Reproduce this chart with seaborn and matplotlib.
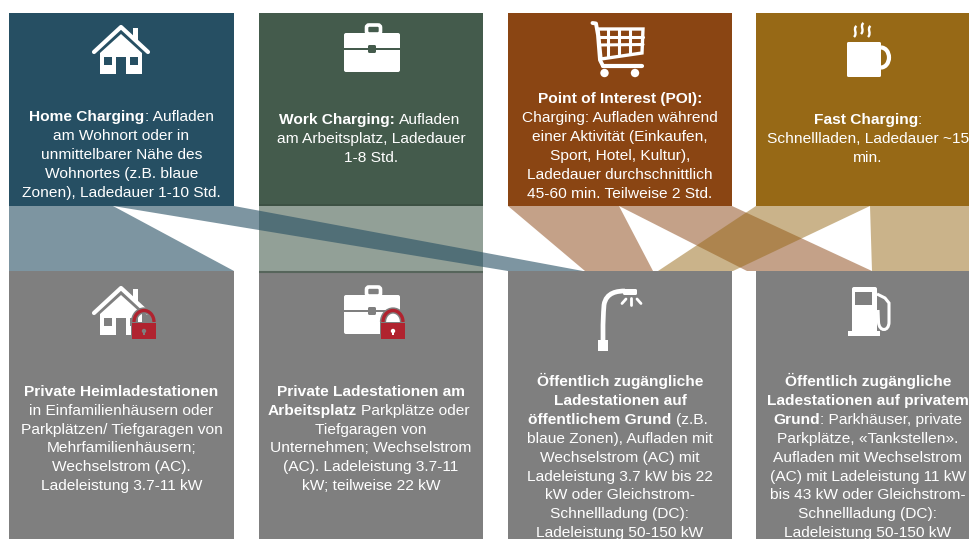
import matplotlib
matplotlib.use('Agg')
import matplotlib.pyplot as plt
import seaborn as sns
from matplotlib.patches import Rectangle, Polygon, Circle, PathPatch, FancyBboxPatch, Arc
from matplotlib.path import Path

# texts: every line is a list of (text, bold) runs
home_text = [[('Home Charging', True), (': Aufladen', False)],
             [('am Wohnort oder in', False)],
             [('unmittelbarer Nähe des', False)],
             [('Wohnortes (z.B. blaue', False)],
             [('Zonen), Ladedauer 1-10 Std.', False)]]
work_text = [[('Work Charging:', True), (' Aufladen', False)],
             [('am Arbeitsplatz, Ladedauer', False)],
             [('1-8 Std.', False)]]
poi_text = [[('Point of Interest (POI):', True)],
            [('Charging: Aufladen während', False)],
            [('einer Aktivität (Einkaufen,', False)],
            [('Sport, Hotel, Kultur),', False)],
            [('Ladedauer durchschnittlich', False)],
            [('45-60 min. Teilweise 2 Std.', False)]]
fast_text = [[('Fast Charging', True), (':', False)],
             [('Schnellladen, Ladedauer ~15', False)],
             [('min.', False)]]
heim_text = [[('Private Heimladestationen', True)],
             [('in Einfamilienhäusern oder', False)],
             [('Parkplätzen/ Tiefgaragen von', False)],
             [('Mehrfamilienhäusern;', False)],
             [('Wechselstrom (AC).', False)],
             [('Ladeleistung 3.7-11 kW', False)]]
arbeit_text = [[('Private Ladestationen am', True)],
               [('Arbeitsplatz', True), (' Parkplätze oder', False)],
               [('Tiefgaragen von', False)],
               [('Unternehmen; Wechselstrom', False)],
               [('(AC). Ladeleistung 3.7-11', False)],
               [('kW; teilweise 22 kW', False)]]
public_text = [[('Öffentlich zugängliche', True)],
               [('Ladestationen auf', True)],
               [('öffentlichem Grund', True), (' (z.B.', False)],
               [('blaue Zonen), Aufladen mit', False)],
               [('Wechselstrom (AC) mit', False)],
               [('Ladeleistung 3.7 kW bis 22', False)],
               [('kW oder Gleichstrom-', False)],
               [('Schnellladung (DC):', False)],
               [('Ladeleistung 50-150 kW', False)]]
private_text = [[('Öffentlich zugängliche', True)],
                [('Ladestationen auf privatem', True)],
                [('Grund', True), (': Parkhäuser, private', False)],
                [('Parkplätze, «Tankstellen».', False)],
                [('Aufladen mit Wechselstrom', False)],
                [('(AC) mit Ladeleistung 11 kW', False)],
                [('bis 43 kW oder Gleichstrom-', False)],
                [('Schnellladung (DC):', False)],
                [('Ladeleistung 50-150 kW', False)]]

sns.set_theme(style='white')
plt.rcParams['font.family'] = ['Liberation Sans', 'DejaVu Sans']
blue, green, brown, gold = sns.color_palette(['#264f63', '#445b4c', '#8a4513', '#976916'])
grey = '#7f7f7f'
red = '#b0232f'
text_size = 11.15
space = 4.3

fig, ax = plt.subplots(figsize=(9.7, 5.39), dpi=100)
fig.subplots_adjust(0, 0, 1, 1)
ax.set_xlim(0, 970)
ax.set_ylim(539, 0)
ax.axis('off')
sns.despine(ax=ax, left=True, bottom=True)

# boxes
for x0, x1, c in [(9, 234, blue), (259, 483, green), (508, 732, brown), (756, 970, gold)]:
    ax.add_patch(Rectangle((x0, 13), x1 - x0, 193, fc=c, lw=0, zorder=2))
for x0, x1 in [(9, 234), (259, 483), (508, 732), (756, 970)]:
    ax.add_patch(Rectangle((x0, 271), x1 - x0, 268, fc=grey, lw=0, zorder=2))

# connecting bands
bands = [([(9, 206), (113, 206), (234, 271), (9, 271)], blue, 0.6),
         ([(259, 206), (483, 206), (483, 271), (259, 271)], green, 0.58),
         ([(508, 206), (619, 206), (653, 271), (585, 271)], brown, 0.5),
         ([(619, 206), (732, 206), (872, 271), (747, 271)], brown, 0.5),
         ([(756, 206), (870, 206), (733, 271), (658, 271)], gold, 0.5),
         ([(870, 206), (970, 206), (970, 271), (872, 271)], gold, 0.5),
         ([(113, 206), (234, 206), (583, 271), (508, 271)], blue, 0.6)]
for pts, c, a in bands:
    ax.add_patch(Polygon(pts, closed=True, fc=c, alpha=a, lw=0, zorder=1))
ax.plot([259, 483], [205, 205], color='#3c4f43', lw=1.2, zorder=3, solid_capstyle='butt')
ax.plot([259, 483], [271.5, 271.5], color='#56655b', lw=1.5, zorder=3, solid_capstyle='butt')


def draw_lines(cx, y0, step, lines):
    r = fig.canvas.get_renderer()
    for i, runs in enumerate(lines):
        items = []
        for s, bold in runs:
            t = ax.text(0, y0 + i * step, s, color='white', fontsize=text_size,
                        fontweight='bold' if bold else 'normal', va='baseline', ha='left', zorder=6)
            t.set_parse_math(False)
            # trailing blanks are not measured, so add them by hand
            w = t.get_window_extent(r).width
            if s.startswith(' '):
                w += space
            items.append((t, w))
        x = cx - sum(w for _, w in items) / 2
        for t, w in items:
            t.set_x(x + (space if t.get_text().startswith(' ') else 0))
            t.set_text(t.get_text().strip())
            x += w


draw_lines(121.5, 121, 19, home_text)
draw_lines(371, 124, 19, work_text)
draw_lines(620, 103, 19, poi_text)
draw_lines(868, 124, 19, fast_text)
draw_lines(121.5, 396, 18.8, heim_text)
draw_lines(371, 396, 18.8, arbeit_text)
draw_lines(620, 386, 18.9, public_text)
draw_lines(868, 386, 18.9, private_text)


def house(dy, bg):
    ax.plot([94, 121, 148], [52 + dy, 27 + dy, 52 + dy], color='white', lw=3, zorder=5)
    ax.add_patch(Rectangle((133, 28 + dy), 5.5, 13, fc='white', lw=0, zorder=5))
    ax.add_patch(Polygon([(100, 53 + dy), (121, 34 + dy), (142, 53 + dy), (142, 74 + dy), (100, 74 + dy)],
                         fc='white', lw=0, zorder=5))
    for x in (104, 130):
        ax.add_patch(Rectangle((x, 57 + dy), 8.5, 8, fc=bg, lw=0, zorder=6))
    ax.add_patch(Rectangle((116, 57 + dy), 10, 17.5, fc=bg, lw=0, zorder=6))


def briefcase(dy, bg):
    ax.add_patch(FancyBboxPatch((366.5, 25 + dy), 14, 9, boxstyle='round,pad=0,rounding_size=2.5',
                                fc='none', ec='white', lw=2.6, zorder=5))
    ax.add_patch(FancyBboxPatch((344, 33 + dy), 56, 39, boxstyle='round,pad=0,rounding_size=2',
                                fc='white', lw=0, zorder=5))
    ax.add_patch(Rectangle((344, 48 + dy), 56, 2.2, fc=bg, lw=0, zorder=6))
    ax.add_patch(FancyBboxPatch((368, 45 + dy), 8, 8, boxstyle='round,pad=0,rounding_size=1.5',
                                fc=bg, lw=0, zorder=7))


def lock(x, dot):
    ax.add_patch(Arc((x, 322), 20, 23, theta1=180, theta2=360, ec=grey, lw=4.5, zorder=7))
    ax.add_patch(Arc((x, 322), 20, 23, theta1=180, theta2=360, ec=red, lw=2.4, zorder=8))
    ax.add_patch(Rectangle((x - 13, 322), 26, 18, fc=grey, lw=0, zorder=7))
    ax.add_patch(Rectangle((x - 12, 323), 24, 16, fc=red, lw=0, zorder=8))
    ax.add_patch(Circle((x, 331), 2.2, fc=dot, lw=0, zorder=9))
    ax.add_patch(Rectangle((x - 0.8, 331), 1.6, 4, fc=dot, lw=0, zorder=9))


house(0, blue)
briefcase(0, green)
house(261, grey)
briefcase(262, grey)
lock(144, grey)
lock(393, 'white')

# cart
ax.plot([592.5, 596, 598, 600, 603], [23, 23.5, 35, 60, 66], color='white', lw=2.8, zorder=5, solid_capstyle='round')
ax.plot([603, 642], [66, 66], color='white', lw=3, zorder=5, solid_capstyle='round')
ax.add_patch(Polygon([(598, 29), (643, 29), (642, 53), (601, 59)], fc='none', ec='white', lw=2.4, zorder=5))
for x in (608, 619, 630):
    ax.plot([x, x], [29, 57 - (x - 601) * 0.14], color='white', lw=2.2, zorder=5)
for y0, y1 in [(37, 37), (45, 44.5)]:
    ax.plot([599, 643], [y0, y1], color='white', lw=2.2, zorder=5)
for x in (604.5, 635):
    ax.add_patch(Circle((x, 73), 4.2, fc='white', lw=0, zorder=5))

# mug
ax.add_patch(FancyBboxPatch((847, 42), 34, 35, boxstyle='round,pad=0,rounding_size=1.5', fc='white', lw=0, zorder=5))
ax.add_patch(Arc((881, 57.5), 16, 20, theta1=-90, theta2=90, ec='white', lw=3, zorder=5))
for x, top in [(855, 26), (862, 23), (869, 26)]:
    s = Path([(x + 1.5, top), (x - 2.5, top + 3), (x + 3, top + 7), (x - 1, top + 11)],
             [Path.MOVETO, Path.CURVE4, Path.CURVE4, Path.CURVE4])
    ax.add_patch(PathPatch(s, fc='none', ec='white', lw=1.7, zorder=5))

# street lamp
pole = Path([(603, 340), (603, 325), (603.5, 312), (604, 305), (606, 292), (618, 291), (625, 291)],
            [Path.MOVETO, Path.LINETO, Path.LINETO, Path.LINETO, Path.CURVE4, Path.CURVE4, Path.CURVE4])
ax.add_patch(PathPatch(pole, fc='none', ec='white', lw=3.4, zorder=5))
ax.add_patch(Rectangle((598, 340), 10, 11, fc='white', lw=0, zorder=5))
ax.add_patch(FancyBboxPatch((623, 289), 14, 6, boxstyle='round,pad=0,rounding_size=1.5', fc='white', lw=0, zorder=5))
for xs, ys in [([626, 622], [299, 303.5]), ([631, 631], [298, 305]), ([637, 641], [299, 303.5])]:
    ax.plot(xs, ys, color='white', lw=2, zorder=5)

# fuel pump
ax.add_patch(FancyBboxPatch((852, 287), 25, 46, boxstyle='round,pad=0,rounding_size=2', fc='white', lw=0, zorder=5))
ax.add_patch(Rectangle((848, 331), 32, 4.5, fc='white', lw=0, zorder=5))
ax.add_patch(Rectangle((855, 292), 17, 13, fc=grey, lw=0, zorder=6))
hose = Path([(877, 294), (885, 298), (889, 303), (889, 322), (889, 332), (879, 332), (878.5, 322), (878, 310)],
            [Path.MOVETO, Path.LINETO, Path.LINETO, Path.LINETO, Path.CURVE4, Path.CURVE4, Path.CURVE4, Path.LINETO])
ax.add_patch(PathPatch(hose, fc='none', ec='white', lw=2.2, zorder=6))

fig.savefig('out.png', dpi=100)
